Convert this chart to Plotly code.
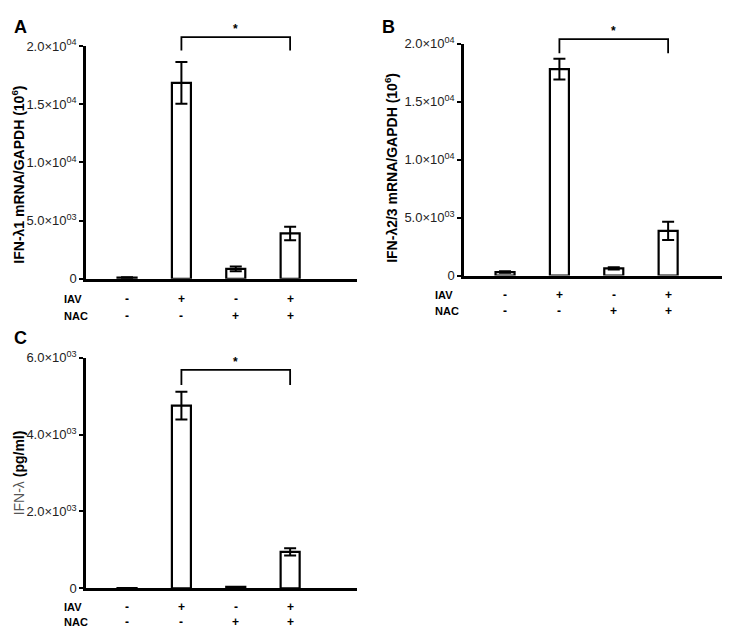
import plotly.graph_objects as go

W, H = 730, 630

groups = [0, 1, 2, 3]
iav = ['-', '+', '-', '+']
nac = ['-', '-', '+', '+']

a_vals = [100, 16850, 850, 3900]
a_err = [30, 1800, 200, 580]
b_vals = [300, 17800, 620, 3850]
b_err = [60, 900, 100, 780]
c_vals = [10, 4750, 40, 950]
c_err = [0, 360, 0, 95]

a_ticks = [0, 5000, 10000, 15000, 20000]
a_ticktext = ['0', '5.0×10<sup>03</sup>', '1.0×10<sup>04</sup>', '1.5×10<sup>04</sup>', '2.0×10<sup>04</sup>']
c_ticks = [0, 2000, 4000, 6000]
c_ticktext = ['0', '2.0×10<sup>03</sup>', '4.0×10<sup>03</sup>', '6.0×10<sup>03</sup>']

# bracket: [leg bottom, top]
a_bracket = [19640, 20780]
b_bracket = [19160, 20390]
c_bracket = [5290, 5680]

FONT = 'Liberation Sans, Arial, sans-serif'


def px_x(p):
    return p / W


def px_y(p):
    return 1 - p / H


panels = [
    dict(name='A', vals=a_vals, err=a_err, br=a_bracket, ticks=a_ticks, tt=a_ticktext, ymax=20000,
         xd=[78, 349], yd=[269, 30], letter=(4, 10), title='<b>IFN-λ1 mRNA/GAPDH (10<sup>6</sup>)</b>',
         tpos=(10, 162), rows=(290, 307), lab_x=54),
    dict(name='B', vals=b_vals, err=b_err, br=b_bracket, ticks=a_ticks, tt=a_ticktext, ymax=20000,
         xd=[456, 727], yd=[265.7, 27.3], letter=(372, 10), title='<b>IFN-λ2/3 mRNA/GAPDH (10<sup>6</sup>)</b>',
         tpos=(383, 155), rows=(285.7, 302), lab_x=425),
    dict(name='C', vals=c_vals, err=c_err, br=c_bracket, ticks=c_ticks, tt=c_ticktext, ymax=6000,
         xd=[78, 349], yd=[587.3, 350], letter=(4, 330),
         title='<span style="color:#555">IFN-λ</span> <b>(pg/ml)</b>',
         tpos=(11, 469), rows=(606.5, 622), lab_x=54),
]

fig = go.Figure()
annotations = []

for i, p in enumerate(panels):
    n = '' if i == 0 else str(i + 1)
    on = str(i + 4)
    xa, ya, oya = 'x' + n, 'y' + n, 'y' + on
    fig.add_trace(go.Bar(
        x=groups, y=p['vals'], xaxis=xa, yaxis=ya, width=0.35,
        marker=dict(color='white', line=dict(color='black', width=2.2)),
        error_y=dict(type='data', array=p['err'], color='black', thickness=2, width=6),
        showlegend=False))
    # overlay axis, same scale but taller, so the bracket above the axis top is not clipped
    y0, y1 = p['yd']
    top_px = 2
    ext_max = p['ymax'] * (y0 - top_px) / (y0 - y1)
    leg, top = p['br']
    fig.add_trace(go.Scatter(
        x=[1, 1, 3, 3], y=[leg, top, top, leg], xaxis=xa, yaxis=oya, mode='lines',
        line=dict(color='black', width=1.8), showlegend=False, hoverinfo='skip'))
    annotations.append(dict(x=2, y=top, xref=xa, yref=oya, text='<b>*</b>', showarrow=False,
                            yanchor='bottom', yshift=-1, font=dict(size=12, color='black', family=FONT)))

    fig.update_layout(**{
        'xaxis' + n: dict(domain=[px_x(p['xd'][0]), px_x(p['xd'][1])], range=[-0.755, 4.23],
                          showline=True, linewidth=2.5, linecolor='black', showgrid=False,
                          zeroline=False, showticklabels=False, ticks='', anchor=ya, fixedrange=True),
        'yaxis' + n: dict(domain=[px_y(y0), px_y(y1)], range=[0, p['ymax']],
                          showline=True, linewidth=2.5, linecolor='black', showgrid=False,
                          zeroline=False, tickvals=p['ticks'], ticktext=p['tt'], ticks='outside',
                          ticklen=4, tickwidth=2, tickcolor='black', anchor=xa,
                          tickfont=dict(size=13, color='#222', family=FONT)),
        'yaxis' + on: dict(domain=[px_y(y0), px_y(top_px)], range=[0, ext_max], anchor=xa,
                           visible=False, showgrid=False, zeroline=False),
    })

    lx, ly = p['letter']
    annotations.append(dict(x=px_x(lx), y=px_y(ly), xref='paper', yref='paper', text='<b>' + p['name'] + '</b>',
                            showarrow=False, xanchor='left', yanchor='middle',
                            font=dict(size=18, color='black', family=FONT)))
    tx, ty = p['tpos']
    annotations.append(dict(x=px_x(tx), y=px_y(ty), xref='paper', yref='paper', text=p['title'], textangle=-90,
                            showarrow=False, xanchor='center', yanchor='middle',
                            font=dict(size=14, color='black', family=FONT)))
    for row_y, label, signs in [(p['rows'][0], 'IAV', iav), (p['rows'][1], 'NAC', nac)]:
        annotations.append(dict(x=px_x(p['lab_x']), y=px_y(row_y), xref='paper', yref='paper',
                                text='<b>' + label + '</b>', showarrow=False, xanchor='left', yanchor='middle',
                                font=dict(size=11, color='black', family=FONT)))
        for g, s in zip(groups, signs):
            annotations.append(dict(x=g, y=px_y(row_y), xref=xa, yref='paper', text='<b>' + s + '</b>',
                                    showarrow=False, xanchor='center', yanchor='middle',
                                    font=dict(size=12, color='black', family=FONT)))

fig.update_layout(
    width=W, height=H,
    margin=dict(l=0, r=0, t=0, b=0),
    plot_bgcolor='rgba(0,0,0,0)',
    paper_bgcolor='white',
    annotations=annotations,
)

fig.write_html("out.html")
